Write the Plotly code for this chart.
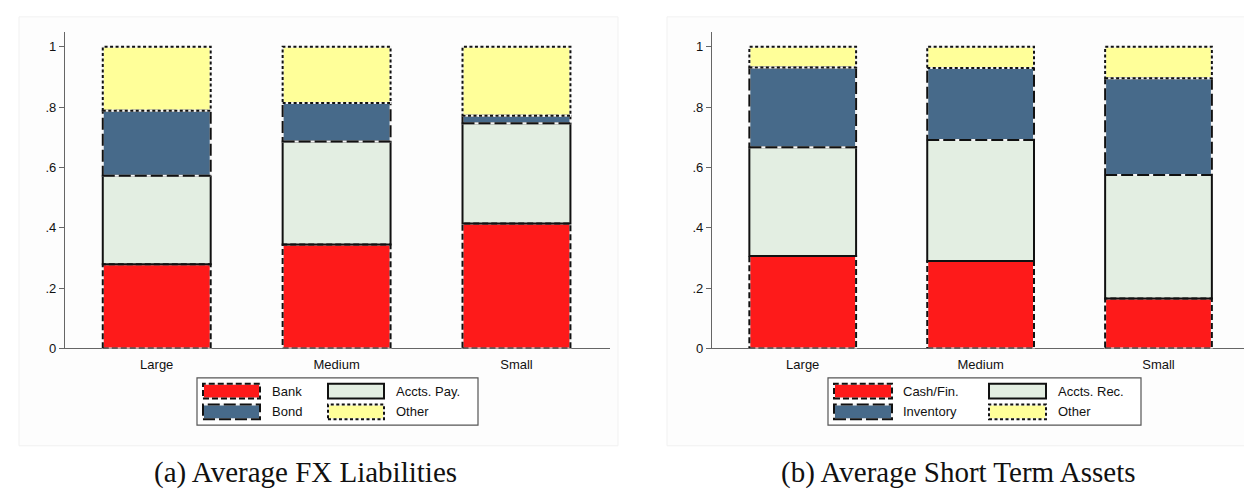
import plotly.graph_objects as go

# ---------------- data ----------------
categories = ["Large", "Medium", "Small"]

liab_series = ["Bank", "Accts. Pay.", "Bond", "Other"]
liab_bank = [0.279, 0.344, 0.414]
liab_accts_pay = [0.293, 0.342, 0.332]
liab_bond = [0.216, 0.127, 0.025]
liab_other = [0.212, 0.187, 0.229]

asset_series = ["Cash/Fin.", "Accts. Rec.", "Inventory", "Other"]
asset_cash = [0.306, 0.290, 0.165]
asset_accts_rec = [0.361, 0.401, 0.410]
asset_inventory = [0.264, 0.238, 0.320]
asset_other = [0.069, 0.071, 0.105]

y_tickvals = [0, 0.2, 0.4, 0.6, 0.8, 1.0]
y_ticktext = ["0", ".2", ".4", ".6", ".8", "1"]

captions = ["(a) Average FX Liabilities", "(b) Average Short Term Assets"]

# ---------------- style ----------------
W, H = 1252, 493
RED = "#fe1a1a"
PALE = "#e3eee2"
BLUE = "#476a8a"
YELLOW = "#ffff99"
colors = [RED, PALE, BLUE, YELLOW]
dashes = ["6px,3px", "solid", "12px,4px", "3px,2.5px"]
BAR_W = 0.6
FONT = "Liberation Sans, Arial, sans-serif"


def px(x):
    return x / W


def py(y):
    return 1 - y / H


fig = go.Figure()

panels = [
    dict(series=liab_series, data=[liab_bank, liab_accts_pay, liab_bond, liab_other],
         xa="x", ya="y", dom=[px(57), px(602)], legend_box=(189, 470),
         sw1=(195, 252), t1=262, sw2=(320, 376), t2=386, panel=(11, 610), cap_x=297),
    dict(series=asset_series, data=[asset_cash, asset_accts_rec, asset_inventory, asset_other],
         xa="x2", ya="y2", dom=[px(704), px(1243)], legend_box=(820, 1133),
         sw1=(826, 884), t1=893, sw2=(981, 1038), t2=1048, panel=(659, 1251), cap_x=950),
]

shapes = []
annotations = []
xs = list(range(len(categories)))

for p in panels:
    # faint panel background
    shapes.append(dict(type="rect", xref="paper", yref="paper",
                       x0=px(p["panel"][0]), x1=px(p["panel"][1]), y0=py(445), y1=py(9),
                       fillcolor="#fdfdfd", line=dict(color="#f1f1f1", width=1), layer="below"))

for p in panels:
    base = [0.0] * len(categories)
    for name, vals, col, dash in zip(p["series"], p["data"], colors, dashes):
        fig.add_trace(go.Bar(x=xs, y=vals, base=base, width=BAR_W, name=name,
                             marker=dict(color=col, line=dict(width=0)),
                             xaxis=p["xa"], yaxis=p["ya"], showlegend=False))
        for i, v in enumerate(vals):
            x0, x1 = xs[i] - BAR_W / 2, xs[i] + BAR_W / 2
            y0, y1 = base[i], base[i] + v
            if dash != "solid":
                shapes.append(dict(type="rect", xref=p["xa"], yref=p["ya"], x0=x0, x1=x1, y0=y0, y1=y1,
                                   line=dict(color="#f4f4f4", width=2), layer="above"))
            shapes.append(dict(type="rect", xref=p["xa"], yref=p["ya"], x0=x0, x1=x1, y0=y0, y1=y1,
                               line=dict(color="#111111", width=2, dash=dash), layer="above"))
        base = [b + v for b, v in zip(base, vals)]

    # legend box
    lb = p["legend_box"]
    shapes.append(dict(type="rect", xref="paper", yref="paper", x0=px(lb[0]), x1=px(lb[1]),
                       y0=py(424), y1=py(376), line=dict(color="#555555", width=1.2), fillcolor="white"))
    rows = [(382, 397), (403, 418)]
    positions = [(p["sw1"], p["t1"], rows[0]), (p["sw2"], p["t2"], rows[0]),
                 (p["sw1"], p["t1"], rows[1]), (p["sw2"], p["t2"], rows[1])]
    # order: first series (r1c1), second (r1c2), third (r2c1), fourth (r2c2)
    for (sw, tx, row), name, col, dash in zip(positions, p["series"], colors, dashes):
        shapes.append(dict(type="rect", xref="paper", yref="paper", x0=px(sw[0]), x1=px(sw[1]),
                           y0=py(row[1]), y1=py(row[0]), fillcolor=col, line=dict(width=0)))
        if dash != "solid":
            shapes.append(dict(type="rect", xref="paper", yref="paper", x0=px(sw[0]), x1=px(sw[1]),
                               y0=py(row[1]), y1=py(row[0]), line=dict(color="#f4f4f4", width=2)))
        shapes.append(dict(type="rect", xref="paper", yref="paper", x0=px(sw[0]), x1=px(sw[1]),
                           y0=py(row[1]), y1=py(row[0]), line=dict(color="#111111", width=2, dash=dash)))
        annotations.append(dict(xref="paper", yref="paper", x=px(tx), y=py((row[0] + row[1]) / 2),
                                text=name, showarrow=False, xanchor="left", yanchor="middle",
                                font=dict(family=FONT, size=13, color="#111111")))

for p, cap in zip(panels, captions):
    annotations.append(dict(xref="paper", yref="paper", x=px(p["cap_x"]), y=py(472), text=cap,
                            showarrow=False, xanchor="center", yanchor="middle",
                            font=dict(family="Liberation Serif, DejaVu Serif, serif", size=29, color="#111111")))

axis_common_x = dict(range=[-0.51, 2.52], tickvals=xs, ticktext=categories, showline=True,
                     linecolor="#666666", linewidth=1.3, ticks="outside", ticklen=4, tickcolor="rgba(0,0,0,0)",
                     showgrid=False, zeroline=False, fixedrange=True,
                     tickfont=dict(family=FONT, size=13, color="#111111"))
axis_common_y = dict(range=[0, 1.05], tickvals=y_tickvals, ticktext=y_ticktext, showline=True,
                     linecolor="#666666", linewidth=1.3, ticks="outside", ticklen=5, tickcolor="#666666",
                     showgrid=False, zeroline=False, fixedrange=True,
                     tickfont=dict(family=FONT, size=13, color="#111111"),
                     domain=[py(346), py(24)])

fig.update_layout(
    width=W, height=H, margin=dict(l=0, r=0, t=0, b=0),
    paper_bgcolor="white", plot_bgcolor="rgba(0,0,0,0)",
    barmode="overlay", showlegend=False,
    xaxis=dict(axis_common_x, domain=panels[0]["dom"], anchor="y"),
    yaxis=dict(axis_common_y, anchor="x"),
    xaxis2=dict(axis_common_x, domain=panels[1]["dom"], anchor="y2"),
    yaxis2=dict(axis_common_y, anchor="x2"),
    shapes=shapes, annotations=annotations,
)

fig.write_html("out.html")
